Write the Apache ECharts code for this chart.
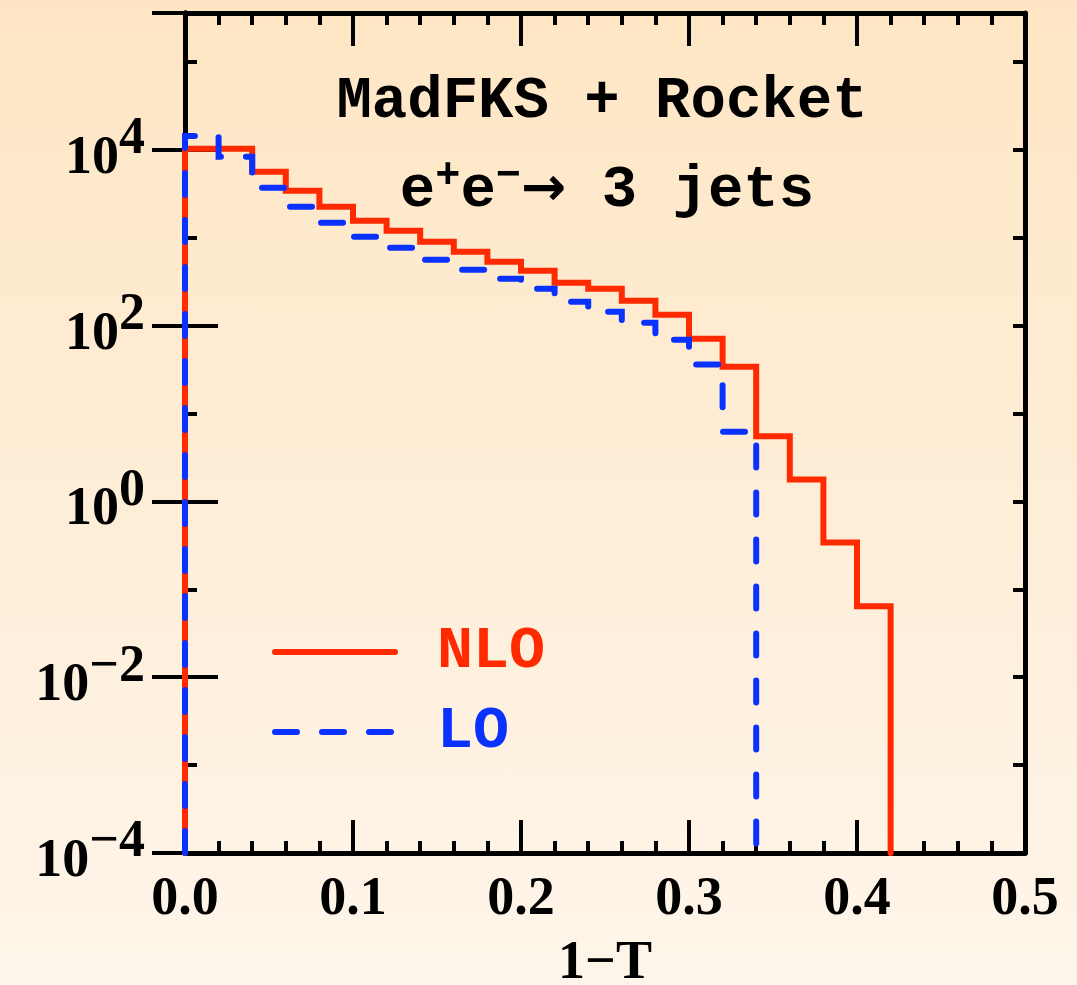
<!DOCTYPE html>
<html>
<head>
<meta charset="utf-8">
<script src="https://cdn.jsdelivr.net/npm/echarts@6/dist/echarts.min.js"></script>
<style>
  html, body { margin: 0; padding: 0; }
  body { width: 1077px; height: 985px; background: linear-gradient(#fee6c4, #fef5ea); }
  #chart { width: 1077px; height: 985px; }
</style>
</head>
<body>
<div id="chart"></div>
<script>
// bin left edges in 1-T (bin width 0.02)
const binEdges = [0.00, 0.02, 0.04, 0.06, 0.08, 0.10, 0.12, 0.14, 0.16, 0.18, 0.20,
                  0.22, 0.24, 0.26, 0.28, 0.30, 0.32, 0.34, 0.36, 0.38, 0.40, 0.42];

// NLO histogram (one value per bin)
const nloValues = [10250, 10250, 5620, 3420, 2250, 1560, 1200, 901, 693, 534, 422,
                   308, 263, 192, 133, 71, 34, 5.5, 1.78, 0.34, 0.064];

// LO histogram
const loValues = [14400, 8320, 3700, 2250, 1480, 1026, 770, 562, 433, 342, 263,
                  187, 144, 108, 69, 36, 6.2];

const xTickLabels = ['0.0', '0.1', '0.2', '0.3', '0.4', '0.5'];
const yLabelExponents = [-4, -2, 0, 2, 4];

const yMin = 1e-4;
const yMax = 3.6e5;

const red = '#ff2a00';
const blue = '#0a32ff';
const serif = "'Liberation Serif', 'DejaVu Serif', serif";
const mono = "'Liberation Mono', 'DejaVu Sans Mono', monospace";
const loDash = [22, 25];

// step outline: start on the floor, walk the bins, drop back to the floor
function histLine(values) {
  const pts = [[binEdges[0], yMin]];
  values.forEach((v, i) => pts.push([binEdges[i], v]));
  pts.push([binEdges[values.length], yMin]);
  return pts;
}

const frame = { show: true, lineStyle: { color: '#000', width: 5 } };

function yAxis(position, long, labels) {
  return {
    type: 'log', logBase: 10, min: yMin, max: yMax,
    position: position, interval: long ? 2 : 1,
    axisLine: frame,
    axisTick: { show: true, inside: true, length: long ? 33 : 12, lineStyle: { color: '#000', width: 4 } },
    minorTick: { show: false },
    splitLine: { show: false },
    axisLabel: labels ? {
      show: true, margin: 40,
      formatter: v => {
        const e = Math.log10(v);
        const n = Math.round(e);
        if (Math.abs(e - n) > 1e-6 || yLabelExponents.indexOf(n) < 0) return '';
        return '{b|10}{s|' + (n < 0 ? '\u2212' + (-n) : n) + '}';
      },
      rich: {
        b: { fontFamily: serif, fontWeight: 'bold', fontSize: 54, color: '#000', padding: [18, 0, 0, 0] },
        s: { fontFamily: serif, fontWeight: 'bold', fontSize: 52, color: '#000', padding: [0, 0, 20, 0] }
      }
    } : { show: false }
  };
}

function xAxis(position, labels) {
  return {
    type: 'value', min: 0, max: 0.5, interval: 0.1, position: position,
    axisLine: frame,
    axisTick: { show: true, inside: true, length: 33, lineStyle: { color: '#000', width: 4 } },
    minorTick: { show: true, splitNumber: 5, length: 12, lineStyle: { color: '#000', width: 4 } },
    splitLine: { show: false },
    axisLabel: labels ? {
      show: true, margin: 20,
      fontFamily: serif, fontWeight: 'bold', fontSize: 54, color: '#000',
      formatter: v => xTickLabels[Math.round(v * 10)]
    } : { show: false },
    name: labels ? '1\u2212T' : '',
    nameLocation: 'middle', nameGap: 84,
    nameTextStyle: { fontFamily: serif, fontWeight: 'bold', fontSize: 54, color: '#000' }
  };
}

const chart = echarts.init(document.getElementById('chart'), null, { renderer: 'canvas' });

chart.setOption({
  backgroundColor: 'transparent',
  animation: false,
  grid: { left: 185, right: 52, top: 13, bottom: 132, outerBoundsMode: 'none', containLabel: false },
  title: [
    {
      text: 'MadFKS + Rocket', left: 597, top: 68, textAlign: 'center',
      textStyle: { fontFamily: mono, fontWeight: 'bold', fontSize: 59, color: '#000' }
    },
    {
      text: '{n|e}{s|+}{n|e}{s|\u2212}{a|\u2192}{n| 3 jets}', left: 602, top: 150, textAlign: 'center',
      textStyle: {
        rich: {
          n: { fontFamily: mono, fontWeight: 'bold', fontSize: 59, color: '#000' },
          a: { fontFamily: "'DejaVu Sans', sans-serif", fontWeight: 'bold', fontSize: 54, color: '#000' },
          s: { fontFamily: mono, fontWeight: 'bold', fontSize: 42, color: '#000', padding: [0, 0, 30, 0] }
        }
      }
    }
  ],
  legend: {
    orient: 'vertical', left: 267, top: 617,
    itemWidth: 120, itemHeight: 6, itemGap: 20,
    itemStyle: { opacity: 0 },
    textStyle: { fontFamily: mono, fontWeight: 'bold', fontSize: 60, lineHeight: 60, padding: [0, 0, 0, 37] },
    data: [
      { name: 'NLO', textStyle: { color: red }, lineStyle: { color: red, width: 6, cap: 'round' } },
      { name: 'LO', textStyle: { color: blue }, lineStyle: { color: blue, width: 6, type: loDash, cap: 'round' } }
    ]
  },
  xAxis: [xAxis('bottom', true), xAxis('top', false)],
  // the 2nd axis on a taken side gets flipped, so 'right'/'left' below land left/right
  yAxis: [yAxis('left', true, true), yAxis('right', true, false), yAxis('right', false, false), yAxis('left', false, false)],
  series: [
    {
      name: 'NLO', type: 'line', step: 'end', data: histLine(nloValues),
      symbol: 'none', clip: false,
      lineStyle: { color: red, width: 6, cap: 'round', join: 'miter' },
      itemStyle: { color: red }
    },
    {
      name: 'LO', type: 'line', step: 'end', data: histLine(loValues),
      symbol: 'none', clip: false,
      lineStyle: { color: blue, width: 6, type: loDash, cap: 'round', join: 'miter' },
      itemStyle: { color: blue }
    }
  ]
});
</script>
</body>
</html>
